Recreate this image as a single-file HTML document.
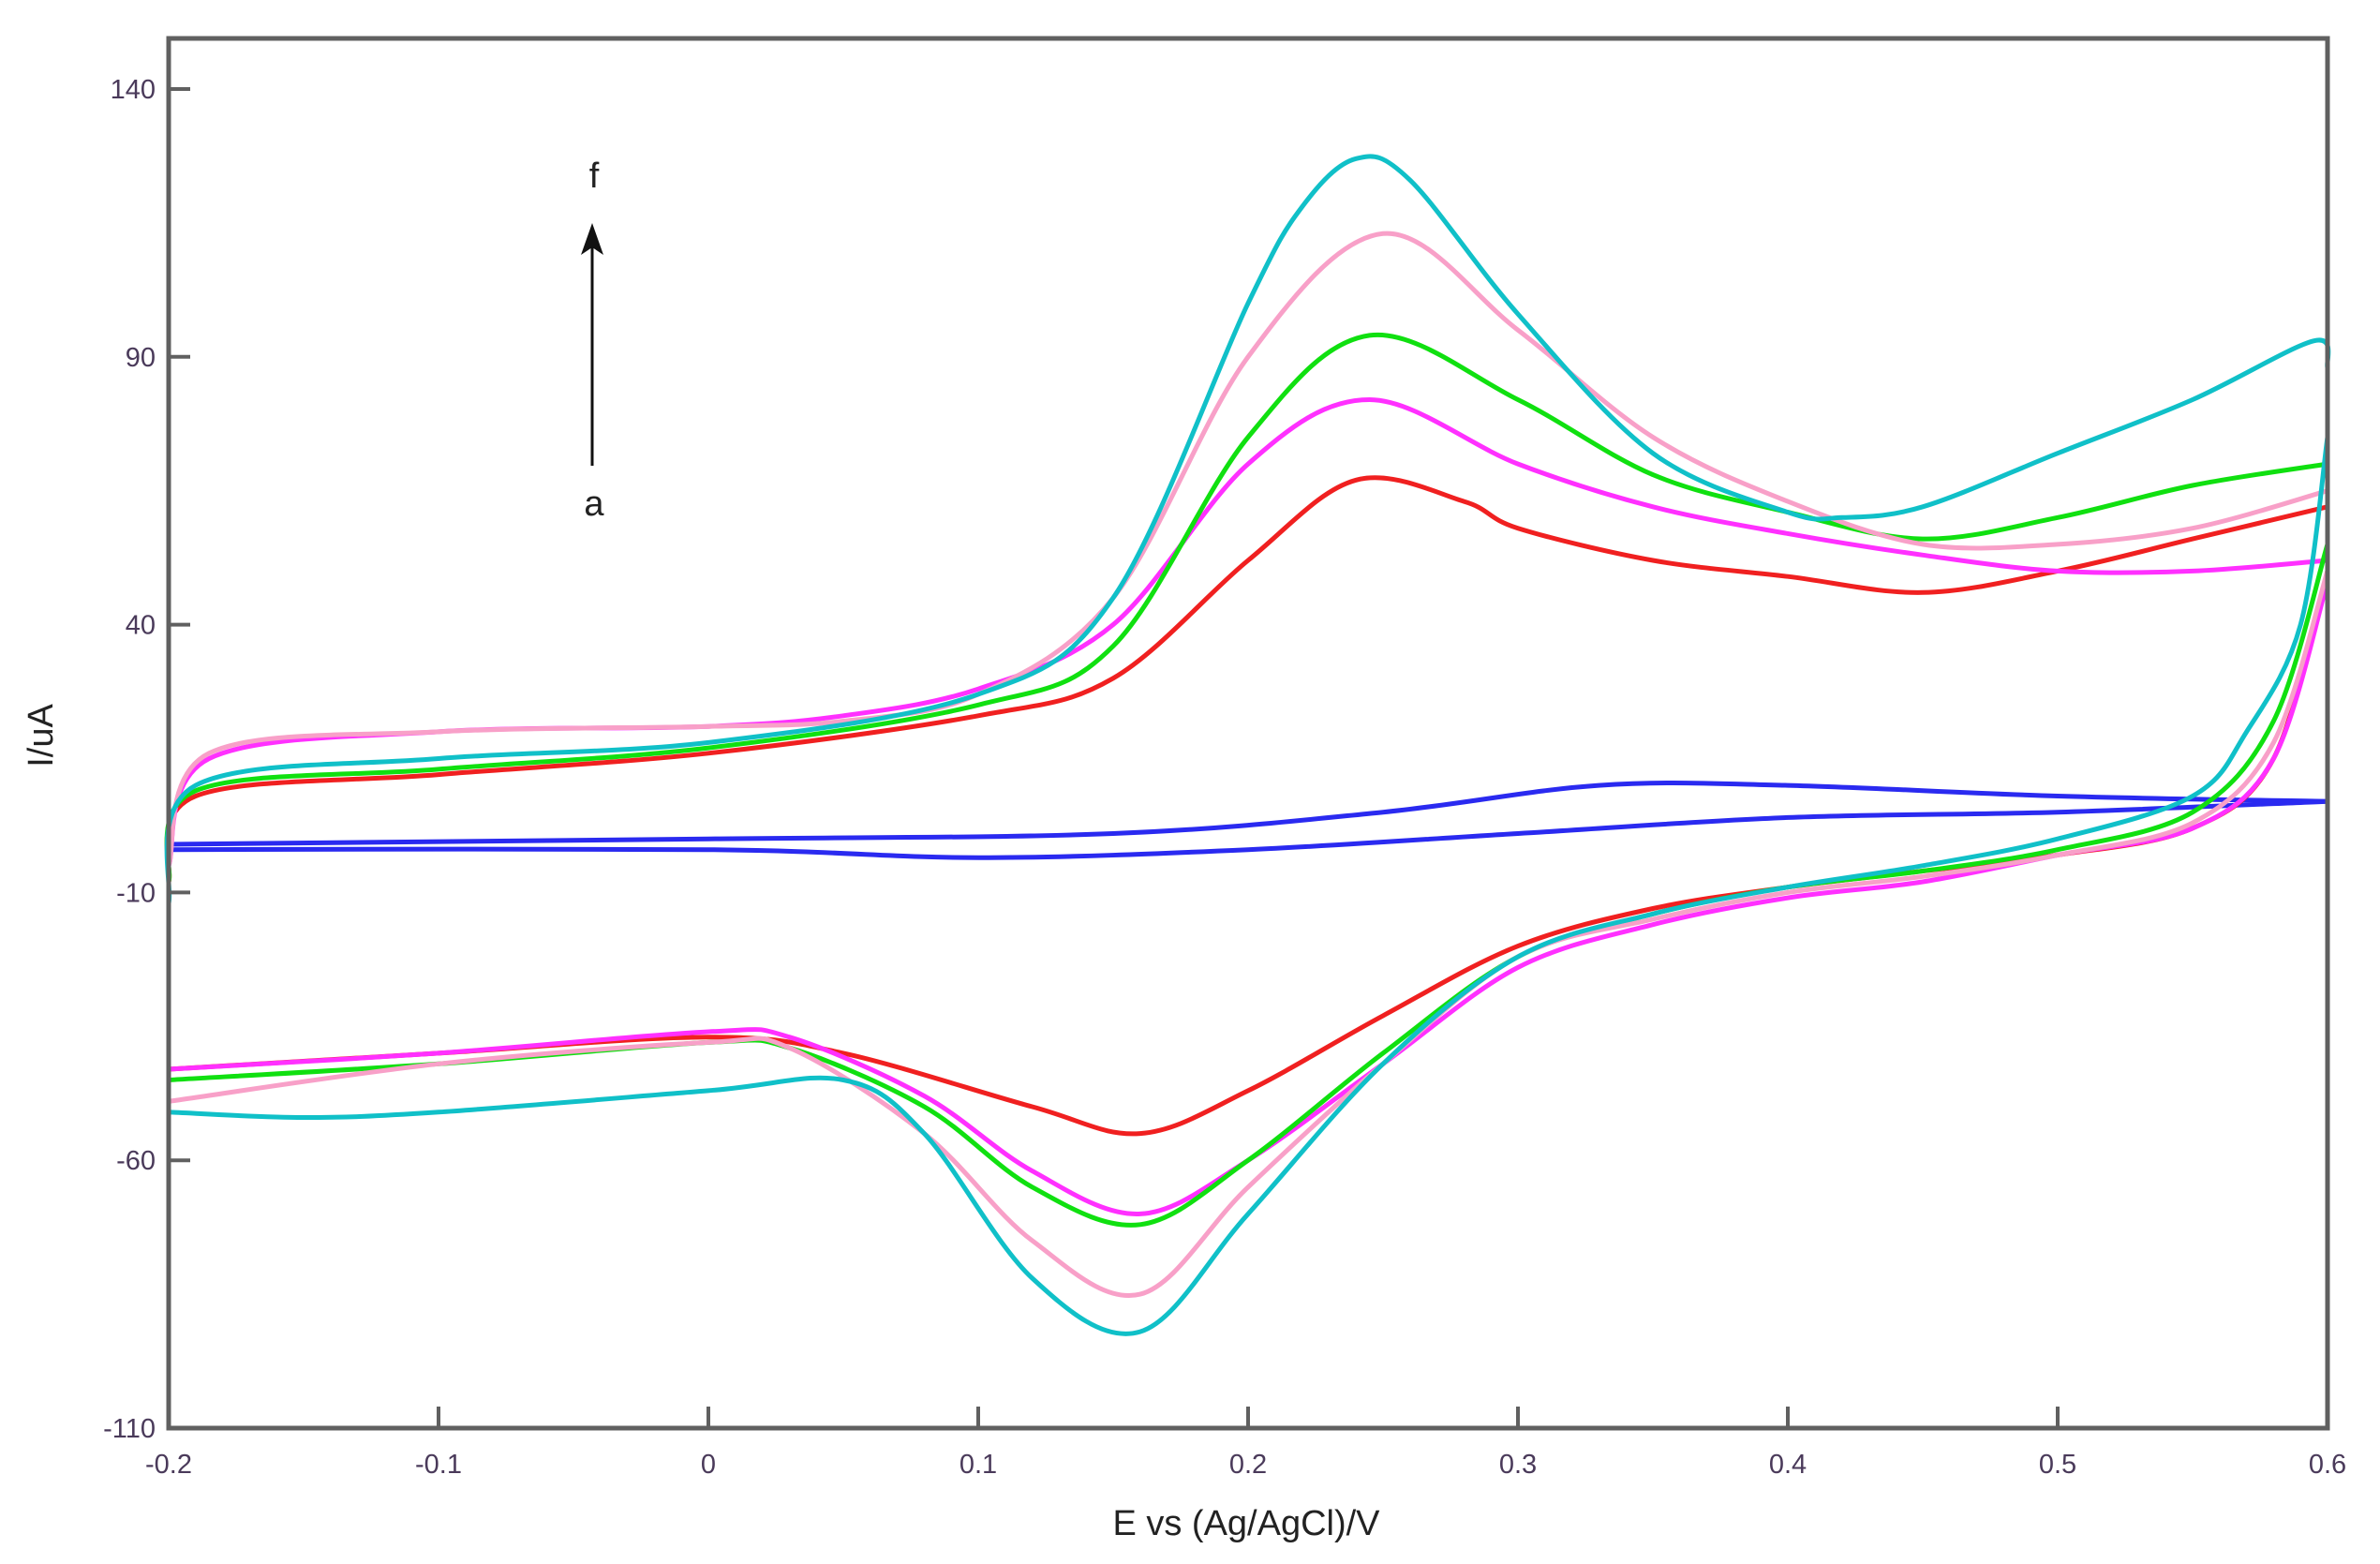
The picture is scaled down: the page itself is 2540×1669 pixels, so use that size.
<!DOCTYPE html>
<html><head><meta charset="utf-8"><style>
body{margin:0;background:#fff}
svg{display:block}
text{font-family:"Liberation Sans",sans-serif}
</style></head><body>
<svg id="chart" width="2540" height="1669" viewBox="0 0 2540 1669"></svg>
<script>
const xTicks=[-0.2,-0.1,0,0.1,0.2,0.3,0.4,0.5,0.6];
const xTickLabels=["-0.2","-0.1","0","0.1","0.2","0.3","0.4","0.5","0.6"];
const yTicks=[140,90,40,-10,-60,-110];
const yTickLabels=["140","90","40","-10","-60","-110"];
const seriesNames=["blue","red","magenta","green","pink","cyan"];
const seriesColors=["#2a2af0","#f02020","#ff30ff","#10e010","#f8a0c8","#10c0c8"];
const blueUpE=[-0.2,0,0.15,0.25,0.33,0.4,0.5,0.6];
const blueUpI=[-1,0,1,5,10,10,8,7];
const blueLoE=[0.6,0.5,0.4,0.3,0.2,0.1,0,-0.2];
const blueLoI=[7,5,4,1,-2,-3.5,-2,-2];
const redUpE=[-0.2,-0.19,-0.1,0,0.1,0.15,0.2,0.24,0.28,0.3,0.35,0.4,0.45,0.5,0.55,0.6];
const redUpI=[-8,8,12,16,23,30,52,67,63,58,52,49,46,50,56,62];
const redLoE=[0.6,0.58,0.55,0.5,0.45,0.4,0.35,0.3,0.25,0.2,0.16,0.12,0.05,0,-0.1,-0.2];
const redLoI=[50,15,2,-3,-6,-9,-13,-20,-33,-47,-55,-50,-40,-37,-40,-43];
const magUpE=[-0.2,-0.185,-0.1,0,0.05,0.1,0.15,0.2,0.245,0.3,0.35,0.4,0.45,0.5,0.55,0.6];
const magUpI=[-5,15,20,21,23,28,40,70,82,70,62,57,53,50,50,52];
const magLoE=[0.6,0.58,0.55,0.5,0.45,0.4,0.35,0.3,0.25,0.2,0.16,0.12,0.08,0.03,0,-0.1,-0.2];
const magLoI=[48,15,2,-3,-8,-11,-16,-24,-42,-60,-70,-62,-48,-37,-36,-40,-43];
const greenUpE=[-0.2,-0.19,-0.1,0,0.1,0.15,0.2,0.245,0.3,0.35,0.4,0.45,0.5,0.55,0.6];
const greenUpI=[-8,9,13,17,25,36,75,94,82,68,61,56,60,66,70];
const greenLoE=[0.6,0.58,0.55,0.5,0.45,0.4,0.35,0.3,0.25,0.2,0.16,0.12,0.08,0.03,0,-0.1,-0.2];
const greenLoI=[55,22,5,-2,-6,-9,-14,-22,-40,-60,-72,-65,-50,-39,-38,-42,-45];
const pinkUpE=[-0.2,-0.185,-0.1,0,0.05,0.1,0.15,0.2,0.25,0.3,0.35,0.4,0.45,0.5,0.55,0.6];
const pinkUpI=[-5,16,20,21,22,27,45,90,113,95,75,63,55,55,58,65];
const pinkLoE=[0.6,0.58,0.55,0.5,0.45,0.4,0.35,0.3,0.25,0.2,0.16,0.12,0.08,0.03,0,-0.1,-0.2];
const pinkLoI=[50,18,3,-3,-7,-10,-15,-22,-42,-65,-85,-75,-55,-39,-38,-42,-49];
const cyanUpE=[-0.2,-0.19,-0.1,0,0.1,0.15,0.2,0.22,0.24,0.26,0.3,0.35,0.4,0.42,0.45,0.5,0.55,0.595,0.6];
const cyanUpI=[-12,10,15,18,27,45,100,118,127,123,98,72,61,60,62,72,82,93,88];
const cyanLoE=[0.6,0.59,0.57,0.55,0.5,0.45,0.4,0.35,0.3,0.25,0.2,0.16,0.12,0.08,0.05,0,-0.1,-0.15,-0.2];
const cyanLoI=[75,40,20,8,0,-5,-9,-14,-22,-42,-70,-92,-82,-55,-45,-47,-51,-52,-51];
const allSeries=[[blueUpE,blueUpI,blueLoE,blueLoI],[redUpE,redUpI,redLoE,redLoI],[magUpE,magUpI,magLoE,magLoI],[greenUpE,greenUpI,greenLoE,greenLoI],[pinkUpE,pinkUpI,pinkLoE,pinkLoI],[cyanUpE,cyanUpI,cyanLoE,cyanLoI]];

const L=180,R=2484,T=41,B=1524;
function xs(v){return L+(v+0.2)/0.8*(R-L);}
function ys(v){return 95+(140-v)/250*(1524-95);}
const NS="http://www.w3.org/2000/svg";
const svg=document.getElementById('chart');
function mk(tag,attrs,parent){const e=document.createElementNS(NS,tag);for(const k in attrs)e.setAttribute(k,attrs[k]);(parent||svg).appendChild(e);return e;}
function smooth(pts){let d="M"+pts[0][0].toFixed(1)+","+pts[0][1].toFixed(1);
 for(let i=0;i<pts.length-1;i++){const p0=pts[Math.max(0,i-1)],p1=pts[i],p2=pts[i+1],p3=pts[Math.min(pts.length-1,i+2)];
  const c1=[p1[0]+(p2[0]-p0[0])/6,p1[1]+(p2[1]-p0[1])/6],c2=[p2[0]-(p3[0]-p1[0])/6,p2[1]-(p3[1]-p1[1])/6];
  d+="C"+c1.map(v=>v.toFixed(1))+" "+c2.map(v=>v.toFixed(1))+" "+p2[0].toFixed(1)+","+p2[1].toFixed(1);}
 return d;}
const g=mk('g',{});


allSeries.forEach((s,k)=>{
 const up=s[0].map((e,i)=>[xs(e),ys(s[1][i])]);
 const lo=s[2].map((e,i)=>[xs(e),ys(s[3][i])]);
 const p1=mk('path',{d:smooth(up),fill:'none',stroke:seriesColors[k],'stroke-width':5,'stroke-linejoin':'round'},g);
 
 
 const p2=mk('path',{d:smooth(lo),fill:'none',stroke:seriesColors[k],'stroke-width':5,'stroke-linejoin':'round'},g);
 
 
});
const frame=mk('rect',{x:L,y:T,width:R-L,height:B-T,fill:'none',stroke:'#606060','stroke-width':5});


xTicks.forEach((v,i)=>{
 const t=mk('line',{x1:xs(v),x2:xs(v),y1:B,y2:B-23,stroke:'#606060','stroke-width':4});
 
 
 const tx=mk('text',{x:xs(v),y:B+48,'text-anchor':'middle','font-size':29,fill:'#4a3a5a'});
 tx.textContent=xTickLabels[i];
 
 
});
yTicks.forEach((v,i)=>{
 const t=mk('line',{x1:L,x2:L+23,y1:ys(v),y2:ys(v),stroke:'#606060','stroke-width':4});
 
 
 const tx=mk('text',{x:L-14,y:ys(v)+10,'text-anchor':'end','font-size':29,fill:'#4a3a5a'});
 tx.textContent=yTickLabels[i];
 
 
});
</script>
<svg style="position:absolute;left:0;top:0" width="2540" height="1669">
<text x="1330" y="1638" text-anchor="middle" font-size="38" fill="#222">E vs (Ag/AgCl)/V</text>
<text transform="translate(56,785) rotate(-90)" text-anchor="middle" font-size="38" fill="#222">I/uA</text>
<text x="634" y="200" text-anchor="middle" font-size="38" fill="#222">f</text>
<text x="634" y="550" text-anchor="middle" font-size="38" fill="#222">a</text>
<line x1="632" y1="497" x2="632" y2="255" stroke="#111" stroke-width="3"/>
<polygon points="632,238 620,272 632,264 644,272" fill="#111"/>
</svg>
</body></html>
